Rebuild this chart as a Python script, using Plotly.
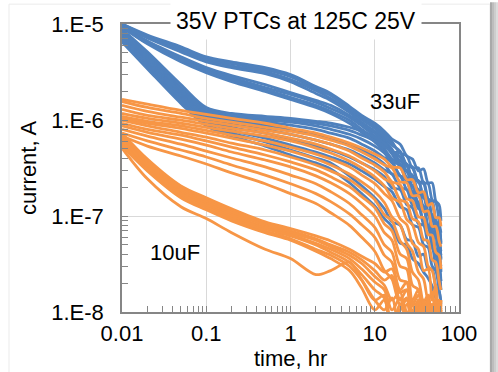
import plotly.graph_objects as go

# ---------------- data ----------------
time_hr = [0.01, 0.02, 0.05, 0.1, 0.2, 0.5, 1, 2, 3, 5, 7, 10, 13, 16, 20, 24, 28, 33, 38, 43, 48, 53, 58, 61]

# 33uF parts, leakage current in nA
b01 = [10000, 7690, 5780, 4550, 4040, 3510, 2970, 2230, 1890, 1390, 1115, 925, 765, 632, 560, 422, 392, 295, 309, 222, 222, 144, 131, 89]
b02 = [10000, 7500, 5510, 4345, 3860, 3340, 2830, 2130, 1800, 1320, 1070, 870, 710, 590, 453, 422, 317, 317, 222, 217, 148, 138, 87, 67]
b03 = [9760, 7330, 5380, 4240, 3670, 3190, 2635, 2030, 1680, 1260, 1015, 820, 662, 548, 475, 340, 325, 227, 227, 151, 144, 89, 78, 51]
b04 = [9760, 7160, 5130, 4040, 3510, 3040, 2510, 1890, 1600, 1200, 950, 765, 617, 498, 374, 348, 244, 233, 155, 148, 94, 83, 52, 39]
b05 = [9530, 6660, 4550, 3510, 2900, 2340, 1935, 1600, 1420, 1115, 900, 730, 590, 475, 412, 288, 267, 179, 171, 111, 103, 63, 53, 35]
b06 = [9530, 6500, 4345, 3340, 2760, 2180, 1845, 1525, 1320, 1070, 870, 680, 548, 442, 325, 295, 202, 188, 122, 113, 70, 62, 37, 27]
b07 = [9310, 6350, 4240, 3260, 2635, 2080, 1720, 1420, 1230, 995, 800, 632, 498, 392, 333, 227, 206, 135, 127, 78, 69, 41, 34, 21]
b08 = [9310, 6210, 4040, 3110, 2510, 1980, 1640, 1350, 1170, 925, 745, 590, 464, 366, 262, 233, 155, 138, 85, 78, 47, 40, 24, 17]
b09 = [8880, 5130, 2340, 1350, 1170, 1090, 1040, 970, 925, 840, 765, 662, 574, 464, 453, 333, 317, 222, 217, 144, 138, 87, 78, 53]
b10 = [8670, 4890, 2180, 1290, 1115, 1040, 995, 925, 870, 780, 695, 605, 522, 475, 348, 333, 239, 233, 155, 148, 96, 89, 57, 43]
b11 = [8460, 4770, 2080, 1230, 1070, 995, 950, 870, 800, 710, 632, 535, 453, 357, 348, 250, 239, 163, 159, 103, 98, 62, 55, 36]
b12 = [8250, 4550, 1980, 1170, 1015, 950, 885, 800, 730, 647, 560, 475, 402, 366, 262, 250, 179, 171, 113, 108, 69, 63, 40, 30]
b13 = [7880, 4345, 1890, 1115, 970, 885, 800, 710, 647, 560, 487, 412, 348, 274, 262, 188, 175, 119, 116, 76, 70, 43, 39, 26]
b14 = [7690, 4140, 1800, 1070, 900, 800, 710, 617, 560, 487, 422, 357, 302, 274, 197, 188, 131, 127, 83, 80, 50, 45, 28, 21]
b15 = [7330, 3950, 1720, 1015, 840, 730, 632, 535, 487, 412, 357, 302, 256, 197, 188, 131, 122, 83, 80, 52, 48, 30, 26, 17]
b16 = [7160, 3770, 1640, 970, 780, 647, 548, 464, 412, 348, 295, 244, 202, 179, 125, 116, 81, 76, 50, 47, 30, 27, 17, 13]
b17 = [6830, 3590, 1560, 900, 730, 590, 487, 402, 357, 262, 206, 155, 119, 87, 80, 57, 55, 38, 40, 28, 28, 18.6, 16.5, 12]
b18 = [6500, 3425, 1490, 870, 680, 535, 432, 357, 309, 222, 171, 127, 94, 78, 52, 50, 36, 32, 26, 22.5, 18.6, 14, 12, 9.3]

# 10uF parts, leakage current in nA
o01 = [1640, 1460, 1260, 1145, 1040, 925, 820, 730, 662, 574, 510, 442, 392, 325, 317, 239, 239, 175, 179, 129, 135, 96, 96, 78]
o02 = [1560, 1350, 1170, 1040, 950, 840, 765, 680, 617, 535, 464, 392, 340, 317, 227, 222, 163, 163, 111, 113, 78, 78, 55, 48]
o03 = [1420, 1230, 1070, 970, 885, 780, 710, 617, 560, 475, 402, 340, 288, 227, 212, 151, 144, 98, 96, 64, 63, 42, 39, 28]
o04 = [1290, 1115, 995, 900, 820, 730, 647, 560, 498, 422, 357, 295, 244, 217, 148, 138, 94, 87, 57, 55, 35, 33, 21, 17]
o05 = [1170, 1040, 925, 840, 765, 680, 605, 510, 453, 374, 317, 256, 206, 155, 138, 92, 81, 53, 48, 30, 27, 16.5, 6, 13]
o06 = [1090, 970, 870, 780, 695, 605, 522, 442, 392, 325, 267, 217, 171, 144, 94, 81, 52, 45, 27, 28, 13.3, 19, 5.8, 12]
o07 = [1040, 925, 820, 730, 647, 548, 475, 392, 340, 274, 227, 179, 138, 98, 81, 52, 43, 26, 22, 13.3, 16.1, 7.3, 13.3, 5]
o08 = [995, 870, 745, 662, 574, 487, 412, 340, 295, 239, 192, 148, 103, 89, 55, 45, 26, 21.5, 12.7, 15, 6.4, 12, 8.5, 13.3]
o09 = [925, 800, 695, 605, 522, 432, 366, 302, 256, 202, 159, 122, 83, 70, 40, 36, 19, 17, 9.3, 14, 5, 10.5, 13.3, 6.4]
o10 = [870, 745, 632, 548, 464, 383, 325, 262, 222, 171, 135, 100, 67, 56, 30, 28, 13.3, 17, 6.4, 12, 10.5, 5, 12, 8.5]
o11 = [800, 680, 560, 475, 402, 325, 267, 217, 179, 135, 103, 76, 50, 42, 21.5, 20.5, 9.3, 13.3, 5, 10.5, 8.5, 12, 4.6, 10]
o12 = [730, 605, 487, 412, 340, 267, 217, 171, 141, 105, 81, 60, 39, 33, 16.1, 17, 8.5, 12, 5.8, 13.3, 4.6, 9.3, 10.5, 7.4]
o13 = [680, 535, 422, 348, 281, 217, 171, 135, 108, 80, 60, 43, 27, 22, 12, 14, 6.4, 10.5, 13.3, 5, 9.3, 12, 5.8, 8.7]
o14 = [730, 392, 206, 155, 119, 87, 74, 62, 55, 45, 38, 32, 26, 28, 17, 20.5, 12, 15, 8.5, 13.3, 5.8, 10.5, 13.3, 7.4]
o15 = [680, 374, 197, 148, 113, 83, 70, 58, 50, 42, 35, 27, 21.5, 24, 13.3, 17, 8.7, 13.3, 5.8, 10.5, 12, 5, 10, 13.3]
o16 = [647, 357, 188, 141, 108, 80, 67, 56, 48, 39, 32, 23.5, 19, 13.3, 16.1, 8.5, 12.7, 10.5, 4.6, 12, 9.3, 13.3, 6.4, 10.5]
o17 = [617, 340, 179, 135, 103, 76, 64, 52, 45, 36, 28, 20.5, 17, 10.5, 14, 5.8, 12, 8.7, 13.3, 5, 10.5, 8.5, 12, 6.4]
o18 = [590, 325, 171, 129, 98, 74, 62, 50, 42, 33, 24.5, 17, 14, 6.4, 12, 10, 5, 13.3, 9.3, 7.4, 12, 4.6, 10.5, 8.5]
o19 = [560, 309, 163, 122, 94, 70, 58, 45, 39, 30, 21.5, 13.3, 10.5, 14, 5.8, 12, 8.5, 4.6, 11, 9.3, 6.4, 13.3, 5, 10]
o20 = [535, 295, 155, 116, 89, 67, 56, 43, 36, 27, 17.8, 10.5, 13.3, 5, 12, 8.5, 10.5, 5.8, 13.3, 4.6, 9.3, 12, 6.4, 10.5]
o21 = [510, 244, 125, 94, 67, 45, 36, 24.5, 27, 33, 21.5, 13.3, 15, 6.4, 10.5, 13.3, 5, 9.3, 12, 5.8, 10.5, 8.5, 4.6, 11]

blue_33uF = [b01, b02, b03, b04, b05, b06, b07, b08, b09, b10, b11, b12, b13, b14, b15, b16, b17, b18]
orange_10uF = [o01, o02, o03, o04, o05, o06, o07, o08, o09, o10, o11, o12, o13, o14, o15, o16, o17, o18, o19, o20, o21]

x_tickvals = [0.01, 0.1, 1, 10, 100]
x_ticktext = ["0.01", "0.1", "1", "10", "100"]
y_tickvals = [1e-8, 1e-7, 1e-6, 1e-5]
y_ticktext = ["1.E-8", "1.E-7", "1.E-6", "1.E-5"]

title_text = "35V PTCs at 125C 25V"
x_title = "time, hr"
y_title = "current, A"

# ---------------- styling ----------------
BLUE = "#4F81BD"
ORANGE = "#F79646"
AXIS = "#868686"
GRID = "#D9D9D9"
FONT = "Liberation Sans, Arial, sans-serif"
W, H = 498, 372
L, R, T, B = 122, 39, 22, 60
PW, PH = W - L - R, H - T - B


def px(xp):
    return (xp - L) / PW


def py(yp):
    return 1 - (yp - T) / PH


fig = go.Figure()
for s in blue_33uF:
    fig.add_trace(go.Scatter(x=time_hr, y=[v * 1e-9 for v in s], mode="lines",
                             line=dict(color=BLUE, width=2.8, shape="spline", smoothing=0.9),
                             showlegend=False, hoverinfo="skip"))
for s in orange_10uF:
    fig.add_trace(go.Scatter(x=time_hr, y=[v * 1e-9 for v in s], mode="lines",
                             line=dict(color=ORANGE, width=2.8, shape="spline", smoothing=0.9),
                             showlegend=False, hoverinfo="skip"))

x_minor = [m * 10.0 ** e for e in range(-2, 2) for m in range(2, 10)]
y_minor = [m * 10.0 ** e for e in range(-8, -5) for m in range(2, 10)]

common = dict(type="log", showline=True, linecolor=AXIS, linewidth=1.5, mirror=True,
              showgrid=True, gridcolor=GRID, gridwidth=1, zeroline=False,
              ticks="inside", ticklen=6, tickcolor=AXIS, tickwidth=1,
              tickfont=dict(family=FONT, size=22, color="black"))

fig.update_xaxes(range=[-2, 2], tickmode="array", tickvals=x_tickvals, ticktext=x_ticktext,
                 ticklabelstandoff=1,
                 minor=dict(tickmode="array", tickvals=x_minor, ticks="inside", ticklen=6,
                            tickcolor=AXIS, showgrid=False), **common)
fig.update_yaxes(range=[-8, -5], tickmode="array", tickvals=y_tickvals, ticktext=y_ticktext,
                 ticklabelstandoff=12,
                 minor=dict(tickmode="array", tickvals=y_minor, ticks="inside", ticklen=6,
                            tickcolor=AXIS, showgrid=False), **common)

ann = [
    dict(text=title_text, x=px(295.5), y=py(18.5), font=dict(size=23), bgcolor="white", borderpad=5),
    dict(text="33uF", x=px(395), y=py(100), font=dict(size=22)),
    dict(text="10uF", x=px(174.5), y=py(252), font=dict(size=22)),
    dict(text=x_title, x=px(290.5), y=py(359), font=dict(size=22)),
    dict(text=y_title, x=px(28), y=py(167), font=dict(size=22), textangle=-90),
]
for a in ann:
    a.update(xref="paper", yref="paper", xanchor="center", yanchor="middle", showarrow=False)
    a["font"].update(family=FONT, color="black")

shapes = [
    dict(type="rect", xref="paper", yref="paper", x0=px(9), x1=px(490), y0=py(H + 5), y1=py(2),
         line=dict(color="#EBEBEB", width=1), fillcolor="rgba(0,0,0,0)", layer="below"),
]
for i, c in enumerate(["#A9A9A9", "#BDBDBD", "#CDCDCD", "#DCDCDC"]):
    shapes.append(dict(type="rect", xref="paper", yref="paper", x0=px(490 + 2 * i), x1=px(492 + 2 * i),
                       y0=py(H + 5), y1=py(0), line=dict(width=0), fillcolor=c))

fig.update_layout(width=W, height=H, margin=dict(l=L, r=R, t=T, b=B, pad=0),
                  paper_bgcolor="white", plot_bgcolor="white",
                  annotations=ann, shapes=shapes, showlegend=False)

fig.write_html("out.html")
